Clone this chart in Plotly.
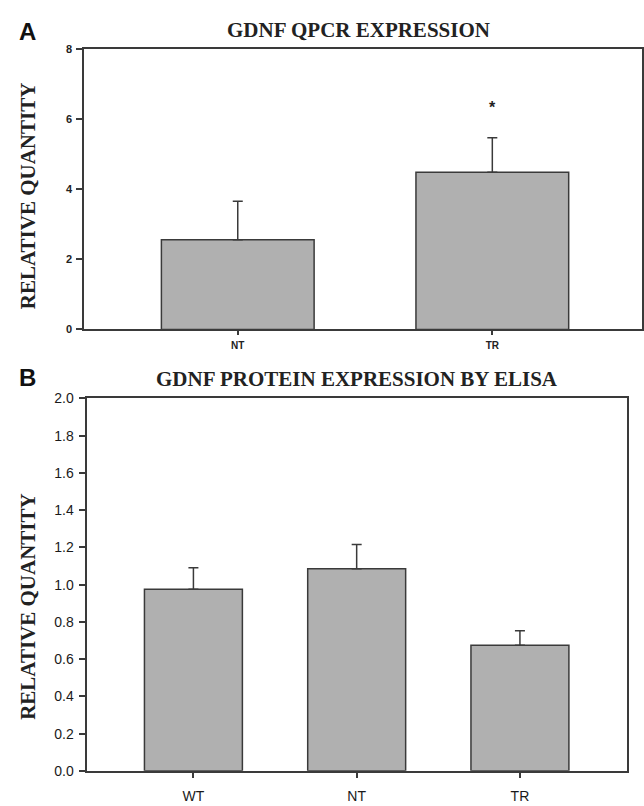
import plotly.graph_objects as go

# Panel A data
cats_a = ["NT", "TR"]
vals_a = [2.56, 4.49]
errs_a = [1.10, 0.98]
star_a = 6.3  # position of significance marker above TR

# Panel B data
cats_b = ["WT", "NT", "TR"]
vals_b = [0.975, 1.085, 0.675]
errs_b = [0.115, 0.13, 0.077]

W, H = 644, 806
LINE = "#3a3a3a"
FILL = "#b0b0b0"

def px(x):
    return x / W

def py(y):
    return 1 - y / H

fig = go.Figure()

fig.add_trace(go.Bar(
    x=list(range(len(cats_a))), y=vals_a, width=0.6,
    marker=dict(color=FILL, line=dict(color=LINE, width=1.5)),
    error_y=dict(type="data", array=errs_a, arrayminus=[0] * len(errs_a), symmetric=False,
                 color=LINE, thickness=1.5, width=5),
    xaxis="x", yaxis="y", showlegend=False, hoverinfo="skip",
))
fig.add_trace(go.Bar(
    x=list(range(len(cats_b))), y=vals_b, width=0.6,
    marker=dict(color=FILL, line=dict(color=LINE, width=1.5)),
    error_y=dict(type="data", array=errs_b, arrayminus=[0] * len(errs_b), symmetric=False,
                 color=LINE, thickness=1.5, width=5),
    xaxis="x2", yaxis="y2", showlegend=False, hoverinfo="skip",
))

axis_common = dict(showline=True, linecolor=LINE, linewidth=1.5, mirror=True,
                   showgrid=False, zeroline=False, ticks="outside", tickcolor=LINE,
                   tickwidth=1.5)

fig.update_layout(
    width=W, height=H,
    margin=dict(l=0, r=0, t=0, b=0),
    paper_bgcolor="white", plot_bgcolor="white",
    xaxis=dict(domain=[px(84), px(642)], range=[-0.604, 1.588], anchor="y",
               tickvals=list(range(len(cats_a))), ticktext=["<b>%s</b>" % c for c in cats_a],
               ticklen=4, ticklabelstandoff=2,
               tickfont=dict(family="Arial, Liberation Sans", size=10, color="#222"),
               **axis_common),
    yaxis=dict(domain=[py(328), py(42)], range=[0, 8], anchor="x",
               tickvals=[0, 2, 4, 6, 8], ticktext=["<b>0</b>", "<b>2</b>", "<b>4</b>", "<b>6</b>", "<b>8</b>"],
               ticklen=6, ticklabelstandoff=2,
               tickfont=dict(family="Arial, Liberation Sans", size=11, color="#222"),
               **axis_common),
    xaxis2=dict(domain=[px(87.3), px(626.7)], range=[-0.65, 2.654], anchor="y2",
                tickvals=list(range(len(cats_b))), ticktext=cats_b, ticklen=5,
                ticklabelstandoff=7,
                tickfont=dict(family="Arial, Liberation Sans", size=14, color="#1a1a1a"),
                **axis_common),
    yaxis2=dict(domain=[py(778.3), py(398.3)], range=[0, 2.0], anchor="x2",
                tickvals=[0, 0.2, 0.4, 0.6, 0.8, 1.0, 1.2, 1.4, 1.6, 1.8, 2.0],
                tickformat=".1f", ticklen=7, ticklabelstandoff=2,
                tickfont=dict(family="Arial, Liberation Sans", size=14, color="#1a1a1a"),
                **axis_common),
)

serif_bold = dict(family="Liberation Serif, Times New Roman", size=21, color="#222")

annotations = [
    dict(text="<b>GDNF QPCR EXPRESSION</b>", x=px(358), y=py(22), xref="paper", yref="paper",
         showarrow=False, xanchor="center", yanchor="middle", font=serif_bold),
    dict(text="<b>GDNF PROTEIN EXPRESSION BY ELISA</b>", x=px(357), y=py(379), xref="paper", yref="paper",
         showarrow=False, xanchor="center", yanchor="middle", font=serif_bold),
    dict(text="<b>RELATIVE QUANTITY</b>", x=px(28), y=py(192), xref="paper", yref="paper",
         showarrow=False, xanchor="center", yanchor="middle", textangle=-90, font=serif_bold),
    dict(text="<b>RELATIVE QUANTITY</b>", x=px(28), y=py(611), xref="paper", yref="paper",
         showarrow=False, xanchor="center", yanchor="middle", textangle=-90, font=serif_bold),
    dict(text="<b>A</b>", x=px(27), y=py(24), xref="paper", yref="paper",
         showarrow=False, xanchor="center", yanchor="middle",
         font=dict(family="Arial, Liberation Sans", size=24, color="#111")),
    dict(text="<b>B</b>", x=px(27), y=py(377), xref="paper", yref="paper",
         showarrow=False, xanchor="center", yanchor="middle",
         font=dict(family="Arial, Liberation Sans", size=24, color="#111")),
    dict(text="<b>*</b>", x=1, y=star_a, xref="x", yref="y",
         showarrow=False, xanchor="center", yanchor="middle", yshift=1,
         font=dict(family="Arial, Liberation Sans", size=16, color="#222")),
]
fig.update_layout(annotations=annotations)

fig.write_html(
    "out.html",
    config={"displayModeBar": False},
    post_script="document.body.style.margin='0';document.body.style.overflow='hidden';",
)
